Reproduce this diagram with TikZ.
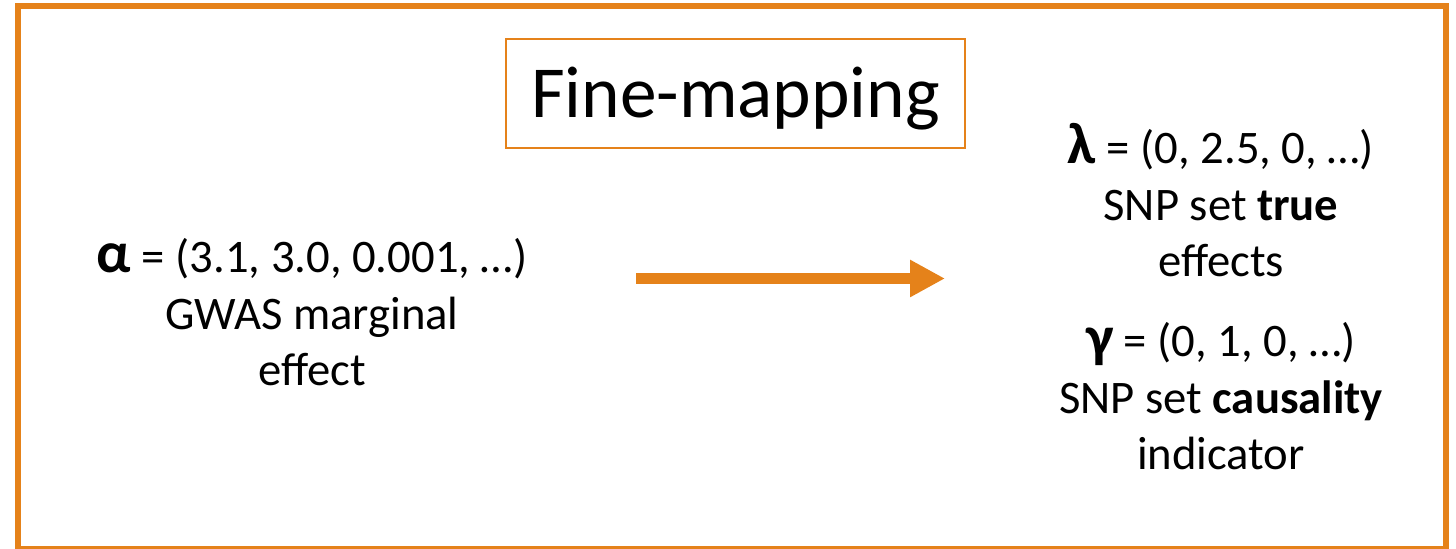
\documentclass[tikz,border=0pt]{standalone}
\usepackage{fontspec}
\setmainfont{Carlito}
\usetikzlibrary{arrows.meta}
\definecolor{MapOrange}{HTML}{E5821A}
\newcommand{\grk}[1]{{\fontsize{35}{34}\selectfont\textbf{#1}}}

\begin{document}
\begin{tikzpicture}[x=0.6pt, y=-0.6pt,
    every node/.style={font=\fontsize{28}{34}\selectfont, align=center, inner sep=0pt}]
    % Canvas and frame
    \useasboundingbox (0,0) rectangle (1456,549);
    \draw[MapOrange, line width=3.6pt] (18,6.5) rectangle (1446,549);

    % Title box
    \node[draw=MapOrange, line width=1pt, minimum width=275.4pt, minimum height=65.4pt,
          text height=28.3pt, text depth=0pt, font=\fontsize{44}{53}\selectfont]
        (title) at (735.5,93.5) {Fine-mapping};

    % GWAS marginal effects (base = last line)
    \node[anchor=base] (alpha) at (312,386)
        {\grk{α} = (3.1, 3.0, 0.001, …)\\GWAS marginal\\effect};

    % Arrow
    \coordinate (arrowstart) at (636,278.5);
    \coordinate (arrowend) at (945,278.5);
    \draw[MapOrange, line width=7pt, -{Triangle[length=21pt, width=21pt]}] (arrowstart) -- (arrowend);

    % Fine-mapped effects
    \node[anchor=base] (lambda) at (1221,277)
        {\grk{λ} = (0, 2.5, 0, …)\\SNP set \textbf{true}\\effects};
    \node[anchor=base] (gamma) at (1221,470)
        {\grk{γ} = (0, 1, 0, …)\\SNP set \textbf{causality}\\indicator};
\end{tikzpicture}
\end{document}
